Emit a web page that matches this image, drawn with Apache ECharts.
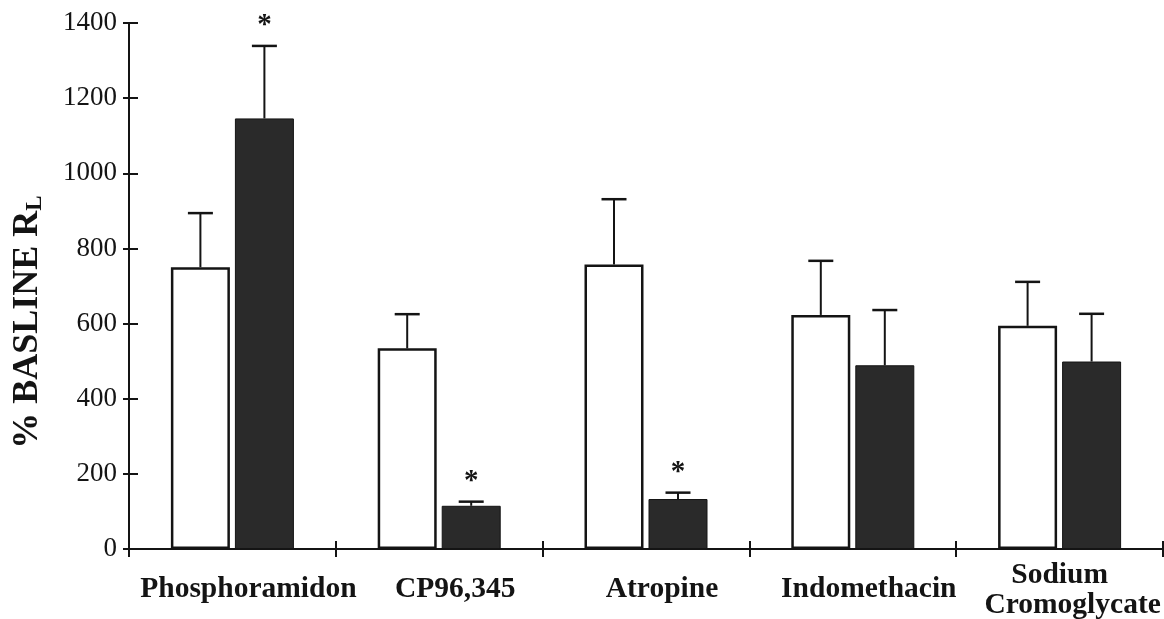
<!DOCTYPE html>
<html>
<head>
<meta charset="utf-8">
<script src="https://cdn.jsdelivr.net/npm/echarts@6/dist/echarts.min.js"></script>
<style>
html,body{margin:0;padding:0;background:#fff;}
#chart{width:1164px;height:619px;}
</style>
</head>
<body>
<div id="chart"></div>
<script>
// ---- data ----
const categories = ['Phosphoramidon', 'CP96,345', 'Atropine', 'Indomethacin', 'Sodium\nCromoglycate'];
const controlMeans = [750, 534, 757, 623, 594];
const controlSEM   = [144, 91, 174, 144, 117];
const treatedMeans = [1146, 115, 133, 489, 499];
const treatedSEM   = [193, 11, 17, 147, 127];
const treatedSig   = [true, true, true, false, false];
const yTicks = [0, 200, 400, 600, 800, 1000, 1200, 1400];

// ---- styling constants ----
const FONT = 'Liberation Serif';
const INK = '#141414';
const BAR_W = 59;
const BAR_GAP_PX = 5;
const HALF_STEP = (BAR_W + BAR_GAP_PX) / 2;

const chart = echarts.init(document.getElementById('chart'), null, {renderer: 'canvas'});

function errRender(offsetSign, withSig) {
  return function (params, api) {
    const idx = api.value(0);
    const mean = api.value(1);
    const top = api.value(2);
    const x = api.coord([idx, 0])[0] + offsetSign * HALF_STEP;
    const yMean = api.coord([idx, mean])[1];
    const yTop = api.coord([idx, top])[1];
    const children = [
      {type: 'line', shape: {x1: x, y1: yMean, x2: x, y2: yTop}, style: {stroke: INK, lineWidth: 2}},
      {type: 'line', shape: {x1: x - 12.5, y1: yTop, x2: x + 12.5, y2: yTop}, style: {stroke: INK, lineWidth: 2.5}}
    ];
    if (withSig && api.value(3)) {
      children.push({type: 'text', style: {text: '*', x: x, y: yTop - 6, align: 'center', verticalAlign: 'bottom',
        font: 'bold 29px "' + FONT + '"', fill: INK}});
    }
    return {type: 'group', children: children};
  };
}

const option = {
  animation: false,
  backgroundColor: '#ffffff',
  grid: {left: 129, right: 1, top: 23, bottom: 70, containLabel: false, outerBoundsMode: 'none'},
  xAxis: [
    {
      type: 'category',
      data: categories,
      position: 'bottom',
      axisLine: {show: true, lineStyle: {color: INK, width: 2}},
      axisTick: {show: true, inside: true, length: 8, lineStyle: {color: INK, width: 2}},
      axisLabel: {
        interval: 0,
        margin: 11,
        verticalAlign: 'top',
        color: INK,
        fontFamily: FONT,
        fontWeight: 'bold',
        fontSize: 29.5,
        formatter: function (v) {
          if (v.indexOf('\n') >= 0) {
            const parts = v.split('\n');
            return '{a|' + parts[0] + '}\n{b|' + parts[1] + '}';
          }
          return '{s|' + v + '}';
        },
        rich: {
          s: {fontFamily: FONT, fontWeight: 'bold', fontSize: 29.5, color: INK, lineHeight: 30, padding: [28, 0, 0, 32]},
          a: {fontFamily: FONT, fontWeight: 'bold', fontSize: 29.5, color: INK, lineHeight: 30},
          b: {fontFamily: FONT, fontWeight: 'bold', fontSize: 29.5, color: INK, lineHeight: 30, padding: [0, 0, 0, 26]}
        }
      },
      splitLine: {show: false}
    },
    {
      type: 'category',
      data: categories,
      position: 'bottom',
      axisLine: {show: false},
      axisTick: {show: true, inside: false, length: 8, lineStyle: {color: INK, width: 2}},
      axisLabel: {show: false},
      splitLine: {show: false}
    }
  ],
  yAxis: [
    {
      type: 'value',
      min: 0, max: 1400, interval: 200,
      position: 'left',
      axisLine: {show: true, lineStyle: {color: INK, width: 2}},
      axisTick: {show: true, inside: true, length: 9, lineStyle: {color: INK, width: 2}},
      axisLabel: {
        margin: 12, color: INK, fontFamily: FONT, fontSize: 27,
        formatter: function (v) { return yTicks.indexOf(v) >= 0 ? String(v) : ''; }
      },
      splitLine: {show: false},
      name: '% BASLINE R{sub|L}',
      nameLocation: 'middle',
      nameRotate: 90,
      nameGap: 82,
      nameTextStyle: {
        fontFamily: FONT, fontWeight: 'bold', fontSize: 36, color: INK,
        rich: {sub: {fontFamily: FONT, fontWeight: 'bold', fontSize: 23, color: INK, verticalAlign: 'bottom', padding: [16, 72, 0, 0]}}
      }
    },
    {
      type: 'value',
      min: 0, max: 1400, interval: 200,
      position: 'left',
      offset: 0,
      axisLine: {show: false},
      axisTick: {show: true, inside: false, length: 6, lineStyle: {color: INK, width: 2}},
      axisLabel: {show: false},
      splitLine: {show: false}
    }
  ],
  series: [
    {
      name: 'Control',
      type: 'bar',
      data: controlMeans,
      barWidth: BAR_W,
      barGap: (BAR_GAP_PX / BAR_W * 100).toFixed(1) + '%',
      itemStyle: {color: '#ffffff', borderColor: INK, borderWidth: 2.5},
      z: 2
    },
    {
      name: 'Treated',
      type: 'bar',
      data: treatedMeans,
      barWidth: BAR_W,
      itemStyle: {color: '#2a2a2a', borderColor: INK, borderWidth: 1},
      z: 2
    },
    {
      type: 'custom',
      renderItem: errRender(-1, false),
      data: controlMeans.map(function (m, i) { return [i, m, m + controlSEM[i], 0]; }),
      encode: {x: 0, y: 2},
      z: 3
    },
    {
      type: 'custom',
      renderItem: errRender(1, true),
      data: treatedMeans.map(function (m, i) { return [i, m, m + treatedSEM[i], treatedSig[i] ? 1 : 0]; }),
      encode: {x: 0, y: 2},
      z: 3
    }
  ]
};
chart.setOption(option);
</script>
</body>
</html>
